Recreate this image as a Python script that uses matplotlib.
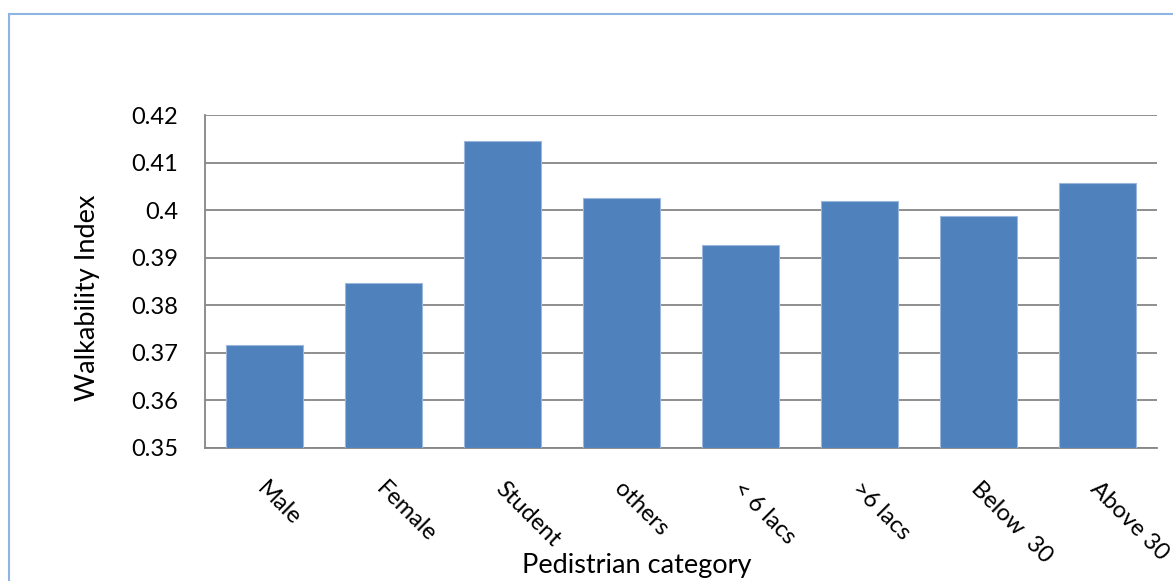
import matplotlib.pyplot as plt
from matplotlib.patches import Rectangle

categories = ['Male', 'Female', 'Student', 'others', '< 6 lacs', '>6 lacs', 'Below  30', 'Above 30']
walk_index = [0.3717, 0.3847, 0.4145, 0.4026, 0.3927, 0.4019, 0.3988, 0.4057]
y_ticks = [0.35, 0.36, 0.37, 0.38, 0.39, 0.40, 0.41, 0.42]
y_tick_labels = ['0.35', '0.36', '0.37', '0.38', '0.39', '0.4', '0.41', '0.42']

plt.rcParams['font.family'] = ['Lato', 'DejaVu Sans']

W, H = 1173, 581
fig = plt.figure(figsize=(W / 100, H / 100), dpi=100)
ax = fig.add_axes([205 / W, 1 - 448 / H, (1157 - 205) / W, (448 - 115) / H])

x = list(range(len(categories)))
ax.bar(x, [v - 0.35 for v in walk_index], bottom=0.35, width=0.64,
       color='#4F81BD', edgecolor='#9BB7DB', linewidth=0.8, zorder=3)

ax.set_xlim(-0.5, len(categories) - 0.5)
ax.set_ylim(0.35, 0.42)
ax.set_yticks(y_ticks)
ax.set_yticklabels(y_tick_labels, fontsize=17)
ax.tick_params(axis='y', length=0, pad=19.5)
ax.tick_params(axis='x', length=0)
ax.set_xticks(x)
ax.set_xticklabels([])
ax.grid(axis='y', color='#868686', linewidth=1.3, zorder=0)
for s in ['top', 'right']:
    ax.spines[s].set_visible(False)
for s in ['left', 'bottom']:
    ax.spines[s].set_color('#868686')
    ax.spines[s].set_linewidth(1.3)

for i, lab in enumerate(categories):
    ax.annotate(lab, xy=(i, 0.35), xycoords='data', xytext=(-4, -37),
                textcoords='offset pixels', rotation=-45, fontsize=17,
                ha='left', va='center', rotation_mode='anchor')

fig.text(88 / W, 1 - 298 / H, 'Walkability Index', fontsize=19.5,
         rotation=90, ha='center', va='center')
fig.text(637 / W, 1 - 565 / H, 'Pedistrian category', fontsize=19.5,
         ha='center', va='center')

fig.patches.append(Rectangle((9 / W, -0.1), 1.2, 1 - 14 / H + 0.1,
                             transform=fig.transFigure, fill=False,
                             edgecolor='#8EB4E3', linewidth=1.5))

fig.savefig('out.png', dpi=100)
